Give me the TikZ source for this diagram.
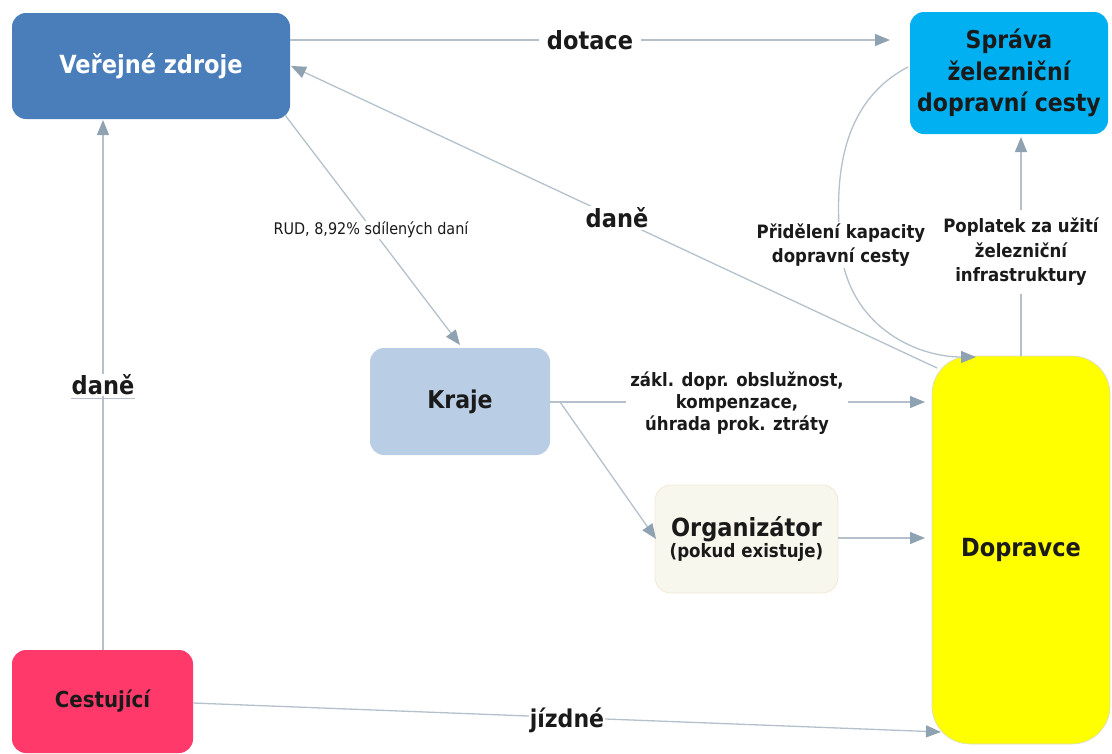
\documentclass[tikz,border=0pt]{standalone}
\usepackage{fontspec}
\setmainfont{DejaVu Sans Condensed}
\usetikzlibrary{arrows.meta}
\definecolor{vzc}{HTML}{4A7EBB}
\definecolor{spc}{HTML}{00B0F0}
\definecolor{krc}{HTML}{B9CDE5}
\definecolor{orc}{HTML}{F8F7EE}
\definecolor{orb}{HTML}{F3E8D6}
\definecolor{doc}{HTML}{FFFF00}
\definecolor{cec}{HTML}{FF3A6B}
\definecolor{linec}{HTML}{B4C1CC}
\definecolor{arrc}{HTML}{8FA2B2}
\definecolor{txtc}{HTML}{1A1A1A}
\tikzset{
  box/.style={rounded corners=14pt, inner sep=0pt, align=center, font=\bfseries, text=txtc},
  conn/.style={draw=linec, line width=1.3pt, -{Triangle[length=15pt,width=12pt,color=arrc]}},
  lbl/.style={fill=white, inner sep=2pt, align=center, font=\bfseries, text=txtc},
}
\begin{document}
\begin{tikzpicture}[x=1pt,y=-1pt]
\useasboundingbox (0,0) rectangle (1112,753);
% nodes
\node[box, fill=vzc, text=white, minimum width=278pt, minimum height=106pt, font=\bfseries\fontsize{25}{30}\selectfont] (vz) at (151,66) {Veřejné zdroje};
\node[box, fill=spc, minimum width=198pt, minimum height=122pt, font=\bfseries\fontsize{24.5}{31.5}\selectfont] (sp) at (1009,73) {Správa\\železniční\\dopravní cesty};
\node[box, fill=krc, minimum width=180pt, minimum height=107pt, font=\bfseries\fontsize{24.5}{28}\selectfont] (kr) at (460,401.5) {Kraje};
\node[box, fill=orc, draw=orb, line width=0.8pt, rounded corners=16pt, minimum width=183pt, minimum height=108pt] (org) at (746.5,539) {{\fontsize{25}{28}\selectfont Organizátor}\\[1pt]{\fontsize{18.5}{20}\selectfont (pokud existuje)}};
\node[box, fill=doc, draw=black!15, line width=0.6pt, rounded corners=38pt, minimum width=178pt, minimum height=388pt, font=\bfseries\fontsize{25}{29}\selectfont] (dop) at (1021,550) {Dopravce};
\node[box, fill=cec, minimum width=181pt, minimum height=103pt, font=\bfseries\fontsize{22}{26}\selectfont] (ces) at (102.5,701.5) {Cestující};
% anchor coordinates
\coordinate (a1) at (290,40);
\coordinate (a2) at (890,40);
\coordinate (b1) at (937,368);
\coordinate (b2) at (291,66);
\coordinate (c1) at (285,115);
\coordinate (c2) at (460,345);
\coordinate (d1) at (103,650);
\coordinate (d2) at (103,120);
\coordinate (e1) at (908,67);
\coordinate (e2) at (976,357);
\coordinate (f1) at (1021,356);
\coordinate (f2) at (1021,137);
\coordinate (g1) at (550,402);
\coordinate (g2) at (925,402);
\coordinate (h1) at (560,402);
\coordinate (h2) at (656,539);
\coordinate (i1) at (838,538);
\coordinate (i2) at (925,538);
\coordinate (j1) at (193,703);
\coordinate (j2) at (941,732);
% connectors
\draw[conn] (a1) -- (a2);
\draw[conn] (b1) -- (b2);
\draw[conn] (c1) -- (c2);
\draw[conn] (d1) -- (d2);
\draw[conn] (e1) .. controls (835,105) and (836,190) .. (840,243) .. controls (846,325) and (915,357) .. (e2);
\draw[conn] (f1) -- (f2);
\draw[conn] (g1) -- (g2);
\draw[conn] (h1) -- (h2);
\draw[conn] (i1) -- (i2);
\draw[conn] (j1) -- (j2);
% labels
\node[lbl, font=\bfseries\fontsize{25}{29}\selectfont, inner xsep=8pt] (l1) at (590,40) {dotace};
\node[lbl, font=\bfseries\fontsize{25}{29}\selectfont] (l2) at (617,218) {daně};
\node[lbl, inner sep=1pt, font=\fontsize{16}{18}\selectfont] (l3) at (371,230) {RUD, 8,92\% sdílených daní};
\node[lbl, font=\bfseries\fontsize{25}{29}\selectfont, inner sep=1pt] (l4) at (103,385) {daně};
\draw[draw=linec, line width=1pt] ([yshift=-4pt]l4.base west) -- ([yshift=-4pt]l4.base east);
\node[lbl, font=\bfseries\fontsize{18.4}{24}\selectfont] (l5) at (841,245) {Přidělení kapacity\\dopravní cesty};
\node[lbl, font=\bfseries\fontsize{18.4}{24.5}\selectfont, inner ysep=8pt] (l6) at (1021,252) {Poplatek za užití\\železniční\\infrastruktury};
\node[lbl, font=\bfseries\fontsize{18.4}{22}\selectfont, inner xsep=4pt] (l7) at (737,403) {zákl. dopr. obslužnost,\\kompenzace,\\úhrada prok. ztráty};
\node[lbl, font=\bfseries\fontsize{24.5}{28}\selectfont, inner sep=1pt] (l8) at (567,720) {jízdné};
\end{tikzpicture}
\end{document}
